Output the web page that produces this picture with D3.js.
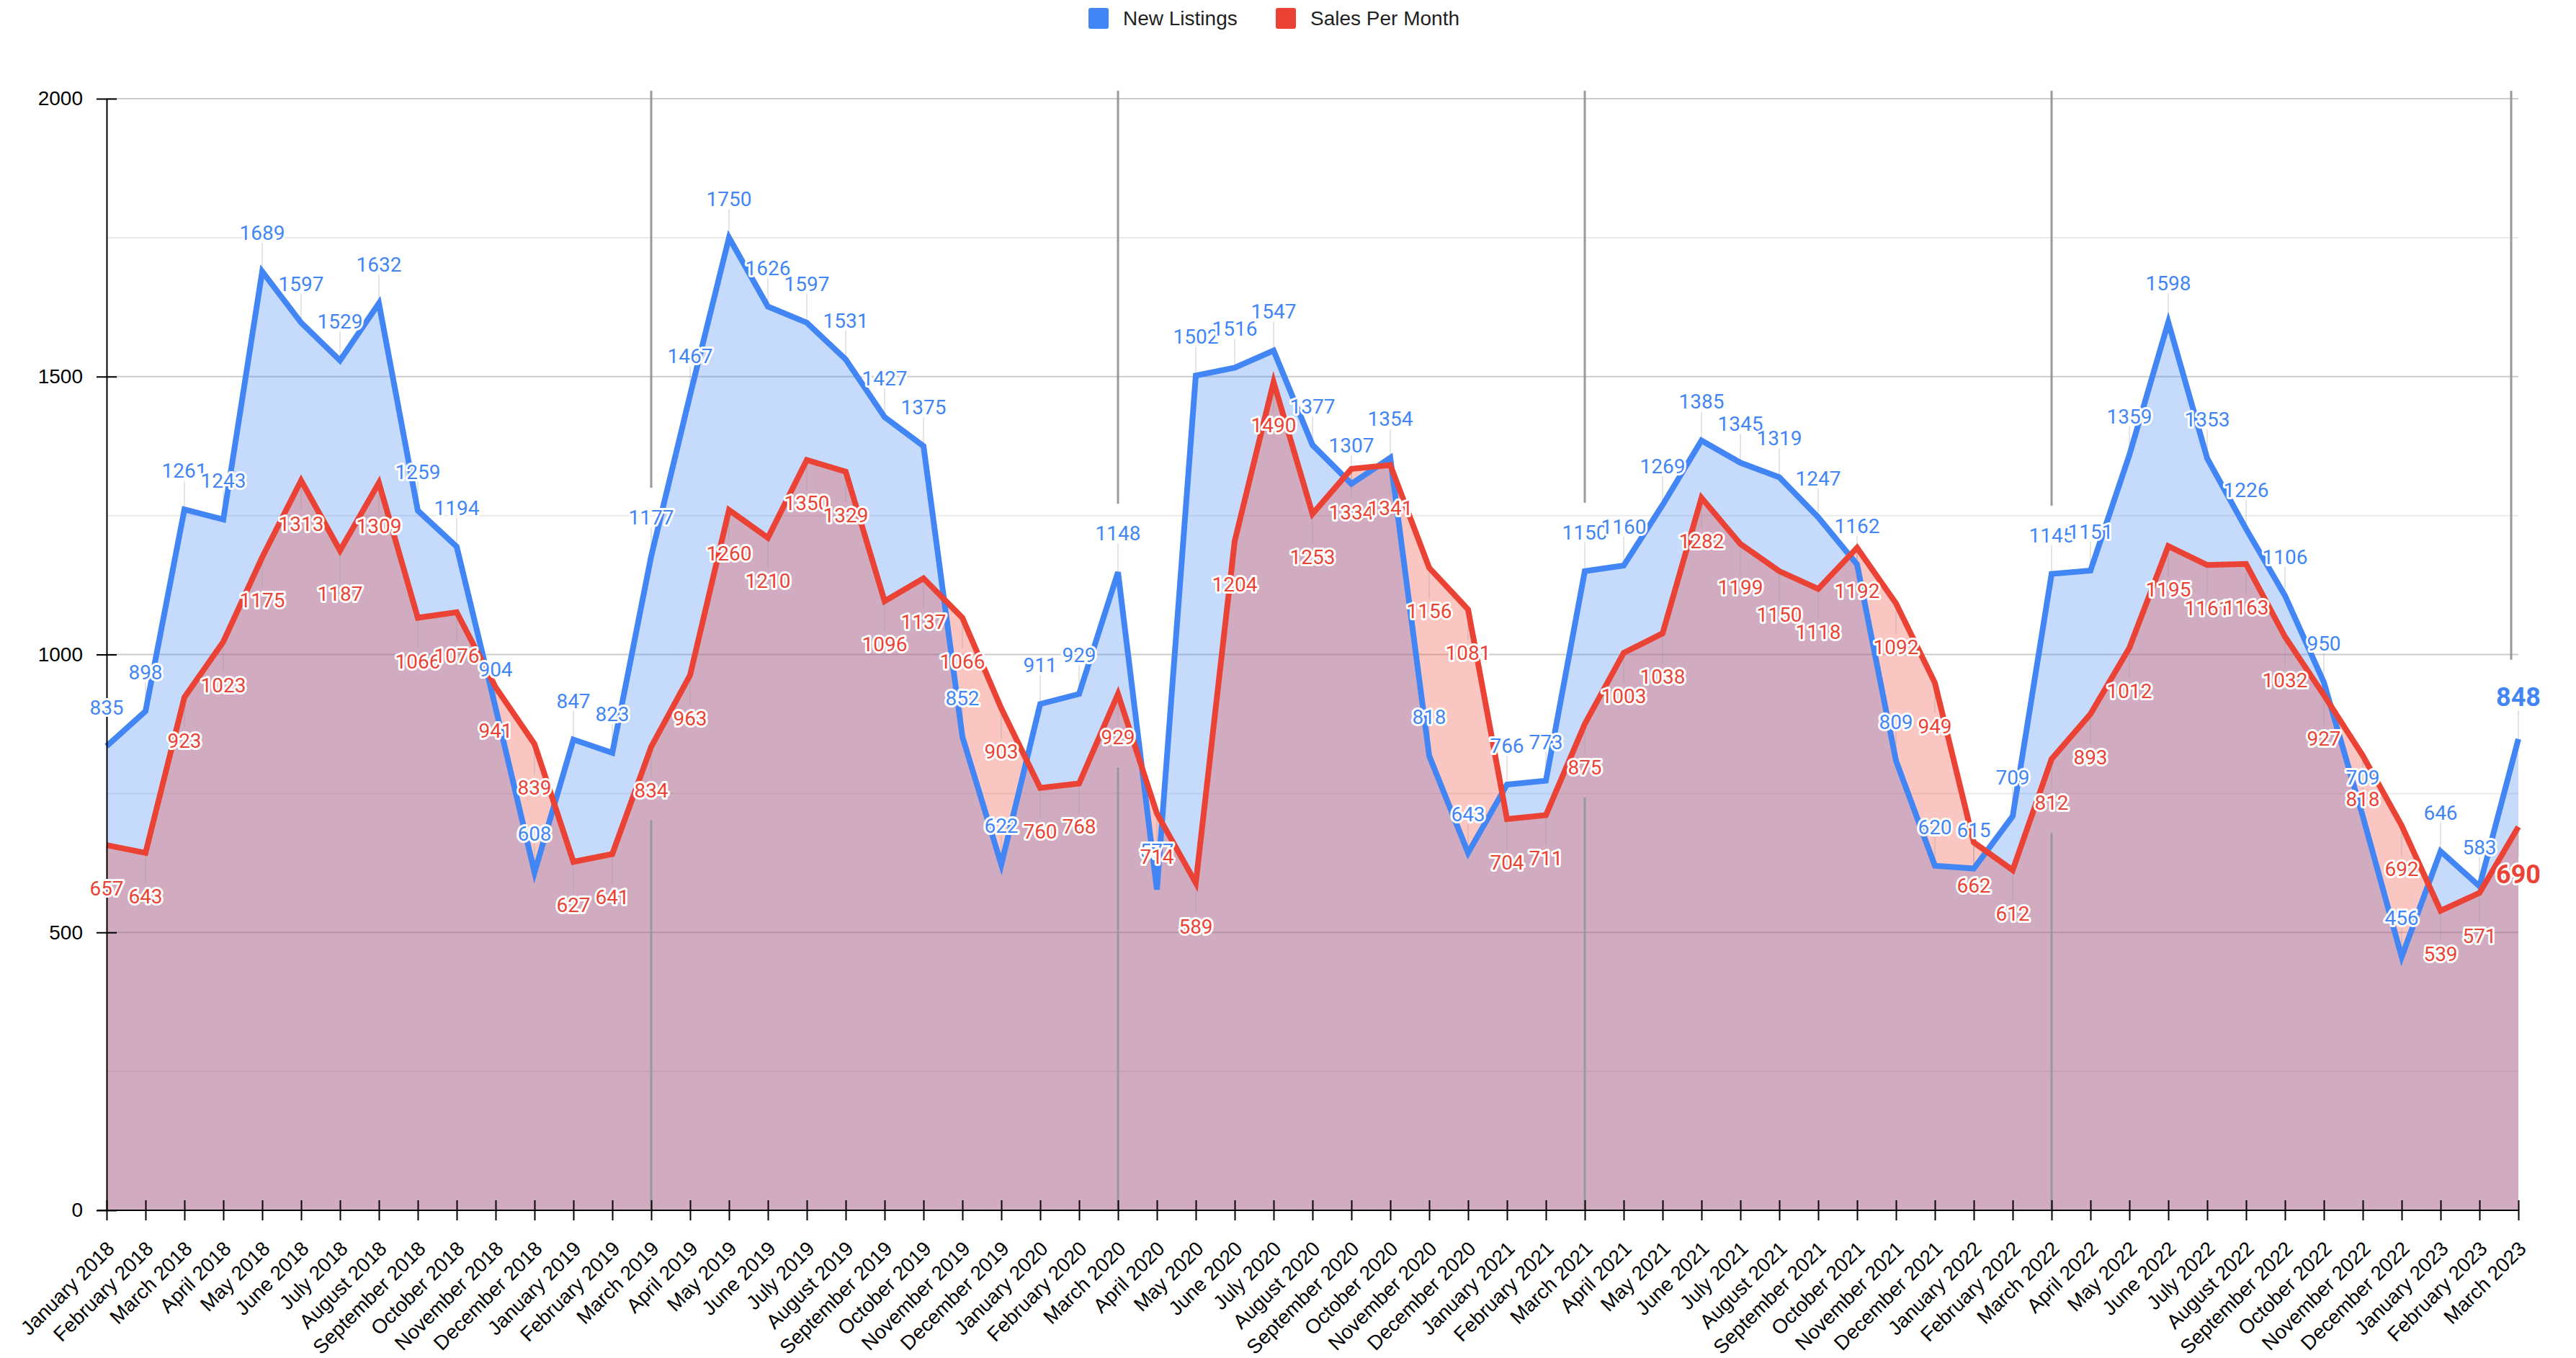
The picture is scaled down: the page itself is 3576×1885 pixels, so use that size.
<!DOCTYPE html>
<html>
<head>
<meta charset="utf-8">
<script src="https://cdn.jsdelivr.net/npm/d3@7"></script>
<style>
  html, body { margin: 0; padding: 0; background: #fff; }
  svg { display: block; }
</style>
</head>
<body>
<div id="chart"></div>
<script>
// categories (x axis)
const months = [
  "January 2018", "February 2018", "March 2018", "April 2018", "May 2018", "June 2018",
  "July 2018", "August 2018", "September 2018", "October 2018", "November 2018", "December 2018",
  "January 2019", "February 2019", "March 2019", "April 2019", "May 2019", "June 2019",
  "July 2019", "August 2019", "September 2019", "October 2019", "November 2019", "December 2019",
  "January 2020", "February 2020", "March 2020", "April 2020", "May 2020", "June 2020",
  "July 2020", "August 2020", "September 2020", "October 2020", "November 2020", "December 2020",
  "January 2021", "February 2021", "March 2021", "April 2021", "May 2021", "June 2021",
  "July 2021", "August 2021", "September 2021", "October 2021", "November 2021", "December 2021",
  "January 2022", "February 2022", "March 2022", "April 2022", "May 2022", "June 2022",
  "July 2022", "August 2022", "September 2022", "October 2022", "November 2022", "December 2022",
  "January 2023", "February 2023", "March 2023"
];

// series values
const newListings = [
  835, 898, 1261, 1243, 1689, 1597, 1529, 1632, 1259, 1194, 904, 608,
  847, 823, 1177, 1467, 1750, 1626, 1597, 1531, 1427, 1375, 852, 622,
  911, 929, 1148, 577, 1502, 1516, 1547, 1377, 1307, 1354, 818, 643,
  766, 773, 1150, 1160, 1269, 1385, 1345, 1319, 1247, 1162, 809, 620,
  615, 709, 1145, 1151, 1359, 1598, 1353, 1226, 1106, 950, 709, 456,
  646, 583, 848
];
const salesPerMonth = [
  657, 643, 923, 1023, 1175, 1313, 1187, 1309, 1066, 1076, 941, 839,
  627, 641, 834, 963, 1260, 1210, 1350, 1329, 1096, 1137, 1066, 903,
  760, 768, 929, 714, 589, 1204, 1490, 1253, 1334, 1341, 1156, 1081,
  704, 711, 875, 1003, 1038, 1282, 1199, 1150, 1118, 1192, 1092, 949,
  662, 612, 812, 893, 1012, 1195, 1161, 1163, 1032, 927, 818, 692,
  539, 571, 690
];

// y axis ticks
const yTicks = [0, 500, 1000, 1500, 2000];
const yMinorTicks = [250, 750, 1250, 1750];
const markerMonths = ["March 2019", "March 2020", "March 2021", "March 2022", "March 2023"];
const seriesNames = ["New Listings", "Sales Per Month"];

const width = 3576;
const height = 1885;
const blue = "#4285F4";
const red = "#EA4335";
const plotLeft = 148, plotRight = 3496, plotTop = 137, plotBottom = 1680;

const svg = d3.select("#chart").append("svg")
  .attr("width", width)
  .attr("height", height)
  .style("background", "#fff");

const x = d3.scalePoint().domain(months).range([plotLeft, plotRight]);
const y = d3.scaleLinear().domain([0, 2000]).range([plotBottom, plotTop]);

// gridlines
svg.append("g").selectAll("line")
  .data(yMinorTicks)
  .join("line")
  .attr("x1", plotLeft).attr("x2", plotRight)
  .attr("y1", d => y(d)).attr("y2", d => y(d))
  .attr("stroke", "#ebebeb").attr("stroke-width", 2);

svg.append("g").selectAll("line")
  .data(yTicks.filter(d => d > 0))
  .join("line")
  .attr("x1", plotLeft).attr("x2", plotRight)
  .attr("y1", d => y(d)).attr("y2", d => y(d))
  .attr("stroke", "#cccccc").attr("stroke-width", 2);

// areas
const area = d3.area()
  .x((d, i) => x(months[i]))
  .y0(y(0))
  .y1(d => y(d));

svg.append("path").datum(newListings)
  .attr("d", area).attr("fill", blue).attr("fill-opacity", 0.3);
svg.append("path").datum(salesPerMonth)
  .attr("d", area).attr("fill", red).attr("fill-opacity", 0.3);

// vertical marker lines at each March
const markers = svg.append("g")
  .attr("stroke", "#999").attr("stroke-width", 3);
markerMonths.forEach(m => {
  const i = months.indexOf(m);
  const last = i === months.length - 1;
  const xx = x(m) - (last ? 10 : 0);
  markers.append("line")
    .attr("x1", xx).attr("x2", xx)
    .attr("y1", plotTop - 11).attr("y2", y(newListings[i]) - (last ? 110 : 95));
  if (!last) {
    markers.append("line")
      .attr("x1", xx).attr("x2", xx)
      .attr("y1", y(salesPerMonth[i]) + 102).attr("y2", plotBottom);
  }
});

// label stems
const stems = svg.append("g")
  .attr("stroke", "#999").attr("stroke-opacity", 0.25).attr("stroke-width", 2);
months.forEach((m, i) => {
  stems.append("line")
    .attr("x1", x(m)).attr("x2", x(m))
    .attr("y1", y(newListings[i])).attr("y2", y(newListings[i]) - 40);
  stems.append("line")
    .attr("x1", x(m)).attr("x2", x(m))
    .attr("y1", y(salesPerMonth[i])).attr("y2", y(salesPerMonth[i]) + 42);
});

// lines
const line = d3.line()
  .x((d, i) => x(months[i]))
  .y(d => y(d));

svg.append("path").datum(newListings)
  .attr("d", line).attr("fill", "none")
  .attr("stroke", blue).attr("stroke-width", 8).attr("stroke-linejoin", "miter");
svg.append("path").datum(salesPerMonth)
  .attr("d", line).attr("fill", "none")
  .attr("stroke", red).attr("stroke-width", 8).attr("stroke-linejoin", "miter");

// x axis
const xAxis = d3.axisBottom(x).tickSize(14).tickSizeOuter(0);
const gx = svg.append("g")
  .attr("transform", `translate(0,${plotBottom})`)
  .call(xAxis);
gx.select(".domain").attr("stroke", "#000").attr("stroke-width", 2)
  .attr("d", `M${plotLeft - 13},0H${plotRight}`);
gx.selectAll(".tick line").attr("y1", -14).attr("y2", 14)
  .attr("stroke", "#000").attr("stroke-width", 2);
gx.selectAll(".tick text")
  .attr("x", 0).attr("y", 0).attr("dy", 0)
  .attr("text-anchor", "end")
  .attr("transform", "translate(12,55) rotate(-45)")
  .attr("font-family", "'Liberation Sans', Arial, sans-serif")
  .attr("font-size", 28)
  .attr("fill", "#000");

// y axis
const yAxis = d3.axisLeft(y).tickValues(yTicks).tickFormat(d3.format("d"))
  .tickSize(14).tickPadding(19).tickSizeOuter(0);
const gy = svg.append("g")
  .attr("transform", `translate(${plotLeft},0)`)
  .call(yAxis);
gy.select(".domain").attr("stroke", "#000").attr("stroke-width", 2);
gy.selectAll(".tick line").attr("x1", 14).attr("x2", -14)
  .attr("stroke", "#000").attr("stroke-width", 2);
gy.selectAll(".tick text")
  .attr("font-family", "'Liberation Sans', Arial, sans-serif")
  .attr("font-size", 28)
  .attr("fill", "#000");

// data labels
const labels = svg.append("g")
  .attr("font-family", "Roboto, 'Noto Sans', sans-serif")
  .attr("text-anchor", "middle")
  .attr("stroke", "#fff")
  .attr("stroke-width", 6)
  .attr("stroke-linejoin", "round")
  .attr("paint-order", "stroke");
months.forEach((m, i) => {
  const last = i === months.length - 1;
  labels.append("text")
    .attr("x", x(m))
    .attr("y", y(newListings[i]) - (last ? 46 : 44))
    .attr("font-size", last ? 36 : 28)
    .attr("font-weight", last ? "bold" : "normal")
    .attr("fill", blue)
    .text(newListings[i]);
  labels.append("text")
    .attr("x", x(m))
    .attr("y", y(salesPerMonth[i]) + (last ? 78 : 70))
    .attr("font-size", last ? 36 : 28)
    .attr("font-weight", last ? "bold" : "normal")
    .attr("fill", red)
    .text(salesPerMonth[i]);
});

// legend
const legend = svg.append("g")
  .attr("font-family", "'Liberation Sans', Arial, sans-serif")
  .attr("font-size", 28);
const legendX = [1511, 1771];
seriesNames.forEach((name, i) => {
  legend.append("rect")
    .attr("x", legendX[i]).attr("y", 11)
    .attr("width", 28).attr("height", 29).attr("rx", 3)
    .attr("fill", i === 0 ? blue : red);
  legend.append("text")
    .attr("x", legendX[i] + 48).attr("y", 35)
    .attr("fill", "#222")
    .text(name);
});
</script>
</body>
</html>
